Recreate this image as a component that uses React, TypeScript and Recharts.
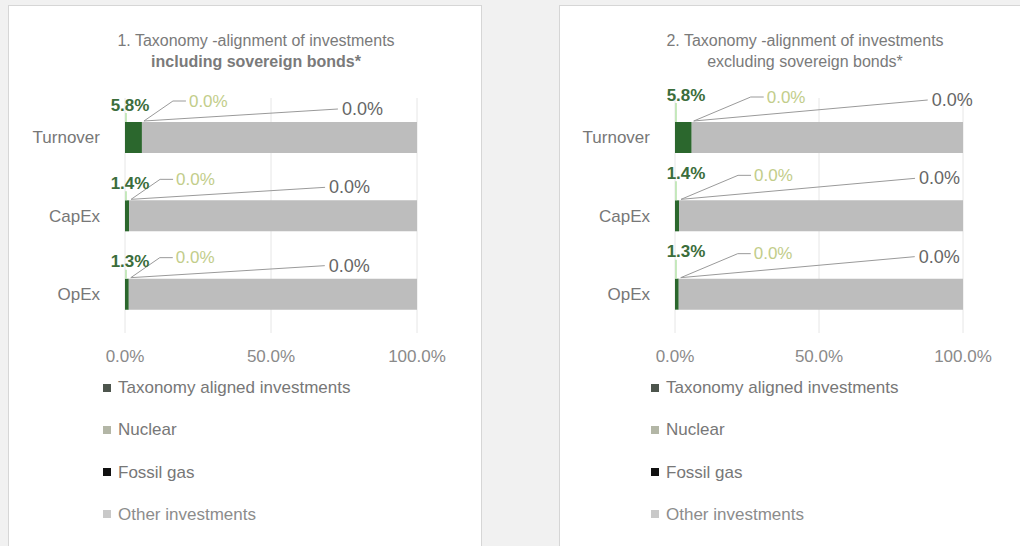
import React from "react";
import { BarChart, Bar, XAxis, YAxis, CartesianGrid, LabelList } from "recharts";

const categories = ["Turnover", "CapEx", "OpEx"];
const seriesNames = ["Taxonomy aligned investments", "Nuclear", "Fossil gas", "Other investments"];
const xTicks = [0, 50, 100];

// 1. including sovereign bonds
const alignedIncl = [5.8, 1.4, 1.3];
const nuclearIncl = [0, 0, 0];
const fossilIncl = [0, 0, 0];
const otherIncl = [94.2, 98.6, 98.7];

// 2. excluding sovereign bonds
const alignedExcl = [5.8, 1.4, 1.3];
const nuclearExcl = [0, 0, 0];
const fossilExcl = [0, 0, 0];
const otherExcl = [94.2, 98.6, 98.7];

const barColors = ["#2b672d", "#c3cc9b", "#111111", "#bdbdbd"];
const legendColors = ["#4d554d", "#b3b6a6", "#111111", "#c9c9c9"];
const FONT = "'Liberation Sans', Arial, sans-serif";
const pct = (v: number) => `${v.toFixed(1)}%`;

type LabelCfg = { aDx: number; aDy: number; nDx: number; nDy: number; fDx: number; fDy: number };

// draws the three value labels of a row plus their leader lines, from the aligned bar's box
const makeLabels =
  (cfg: LabelCfg, aligned: number[], nuclear: number[], fossil: number[]) => (props: any) => {
    const vb = props.viewBox || props;
    const x0 = Number(vb.x ?? props.x);
    const top = Number(vb.y ?? props.y);
    const xe = x0 + Number(vb.width ?? props.width);
    const i = props.index ?? 0;
    const aY = top + cfg.aDy;
    const nX = xe + cfg.nDx;
    const nY = top + cfg.nDy;
    const fX = xe + cfg.fDx;
    const fY = top + cfg.fDy;
    return (
      <g fontFamily={FONT}>
        <line x1={x0 + 1} y1={top} x2={x0 + 1} y2={aY + 8} stroke="#b5e3a8" strokeWidth={1.5} />
        <polyline
          points={`${xe + 2},${top - 1} ${nX - 16},${nY} ${nX - 3},${nY}`}
          fill="none"
          stroke="#9a9a9a"
          strokeWidth={1}
        />
        <line x1={xe + 2} y1={top - 1} x2={fX - 4} y2={fY} stroke="#9a9a9a" strokeWidth={1} />
        <text x={x0 + cfg.aDx} y={aY} textAnchor="middle" dominantBaseline="central" fill="#3b6d3b" fontSize={17} fontWeight="bold">
          {pct(aligned[i])}
        </text>
        <text x={nX} y={nY} dominantBaseline="central" fill="#c2cd8a" fontSize={17}>
          {pct(nuclear[i])}
        </text>
        <text x={fX} y={fY} dominantBaseline="central" fill="#666" fontSize={18}>
          {pct(fossil[i])}
        </text>
      </g>
    );
  };

interface PanelProps {
  boxLeft: number;
  boxWidth: number;
  chartLeft: number;
  marginRight: number;
  titleCenter: number;
  title1: string;
  title2: string;
  title2Bold: boolean;
  legendLeft: number;
  aligned: number[];
  nuclear: number[];
  fossil: number[];
  other: number[];
  cfg: LabelCfg;
}

function Panel(p: PanelProps) {
  const rows = categories.map((name, i) => ({
    name,
    aligned: p.aligned[i],
    nuclear: p.nuclear[i],
    fossil: p.fossil[i],
    other: p.other[i],
  }));
  return (
    <>
      <div
        style={{
          position: "absolute",
          left: p.boxLeft,
          top: 5,
          width: p.boxWidth,
          height: 600,
          background: "#fff",
          border: "1px solid #d6d6d6",
        }}
      />
      <div
        style={{
          position: "absolute",
          left: p.titleCenter - 200,
          top: 30,
          width: 400,
          textAlign: "center",
          fontFamily: FONT,
          fontSize: 16,
          lineHeight: "21px",
          color: "#7a7a7a",
        }}
      >
        <div>{p.title1}</div>
        <div style={{ fontWeight: p.title2Bold ? "bold" : "normal" }}>{p.title2}</div>
      </div>
      <div style={{ position: "absolute", left: p.chartLeft, top: 0 }}>
        <BarChart
          layout="vertical"
          width={470}
          height={400}
          data={rows}
          barSize={31}
          margin={{ top: 98, right: p.marginRight, bottom: 27, left: 10 }}
        >
          <CartesianGrid horizontal={false} stroke="#e6e6e6" />
          <XAxis
            type="number"
            domain={[0, 100]}
            ticks={xTicks}
            interval={0}
            tickFormatter={pct}
            axisLine={false}
            tickLine={false}
            tickSize={0}
            tickMargin={17}
            height={40}
            tick={{ fill: "#8a8a8a", fontSize: 17, fontFamily: FONT }}
          />
          <YAxis
            type="category"
            dataKey="name"
            width={115}
            axisLine={false}
            tickLine={false}
            tickSize={0}
            tickMargin={25}
            tick={{ fill: "#777", fontSize: 17, fontFamily: FONT }}
          />
          <Bar dataKey="aligned" name={seriesNames[0]} stackId="s" fill={barColors[0]} isAnimationActive={false}>
            <LabelList content={makeLabels(p.cfg, p.aligned, p.nuclear, p.fossil)} />
          </Bar>
          <Bar dataKey="nuclear" name={seriesNames[1]} stackId="s" fill={barColors[1]} isAnimationActive={false} />
          <Bar dataKey="fossil" name={seriesNames[2]} stackId="s" fill={barColors[2]} isAnimationActive={false} />
          <Bar dataKey="other" name={seriesNames[3]} stackId="s" fill={barColors[3]} isAnimationActive={false} />
        </BarChart>
      </div>
      {seriesNames.map((s, i) => (
        <div
          key={s}
          style={{
            position: "absolute",
            left: p.legendLeft,
            top: 378 + i * 42.3,
            height: 20,
            lineHeight: "20px",
            fontFamily: FONT,
            fontSize: 17,
            color: i === 3 ? "#8c8c8c" : "#777",
            whiteSpace: "nowrap",
          }}
        >
          <span
            style={{
              display: "inline-block",
              width: 8,
              height: 8,
              background: legendColors[i],
              marginRight: 7,
              verticalAlign: "middle",
              position: "relative",
              top: -1,
            }}
          />
          {s}
        </div>
      ))}
    </>
  );
}

export default function App() {
  return (
    <div
      style={{
        position: "absolute",
        left: 0,
        top: 0,
        width: 1020,
        height: 546,
        overflow: "hidden",
        background: "#f1f1f1",
      }}
    >
      <Panel
        boxLeft={8}
        boxWidth={472}
        chartLeft={0}
        marginRight={53}
        titleCenter={256}
        title1="1. Taxonomy -alignment of investments"
        title2="including sovereign bonds*"
        title2Bold
        legendLeft={103}
        aligned={alignedIncl}
        nuclear={nuclearIncl}
        fossil={fossilIncl}
        other={otherIncl}
        cfg={{ aDx: 5, aDy: -17, nDx: 47, nDy: -21, fDx: 200, fDy: -13 }}
      />
      <Panel
        boxLeft={559}
        boxWidth={520}
        chartLeft={550}
        marginRight={57}
        titleCenter={805}
        title1="2. Taxonomy -alignment of investments"
        title2="excluding sovereign bonds*"
        title2Bold={false}
        legendLeft={651}
        aligned={alignedExcl}
        nuclear={nuclearExcl}
        fossil={fossilExcl}
        other={otherExcl}
        cfg={{ aDx: 11, aDy: -27, nDx: 75, nDy: -25, fDx: 240, fDy: -22 }}
      />
    </div>
  );
}
